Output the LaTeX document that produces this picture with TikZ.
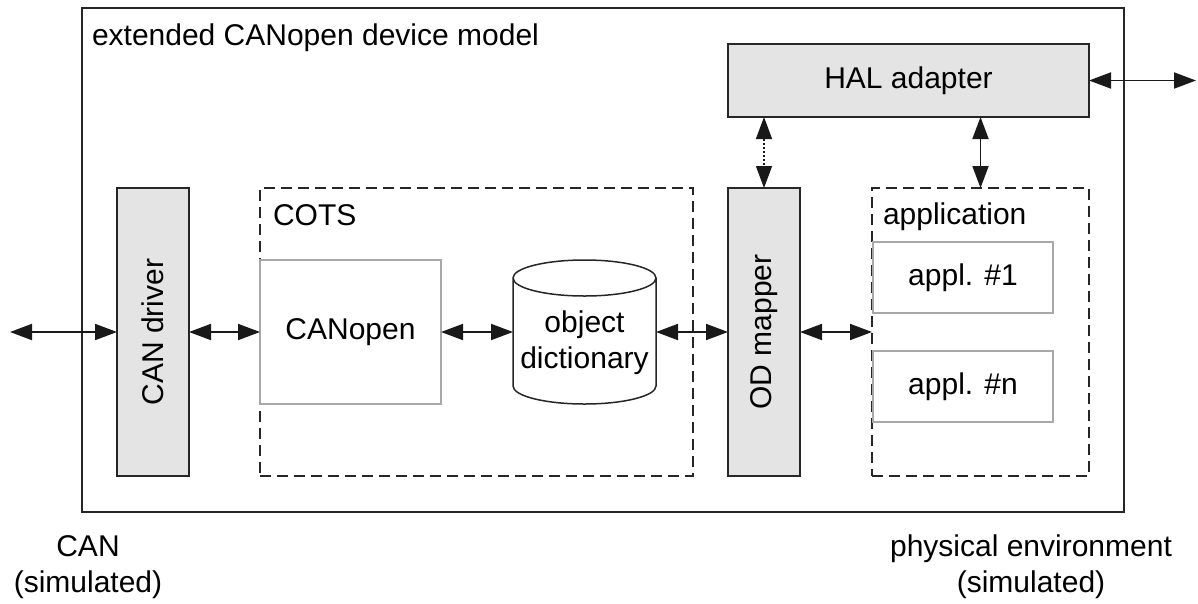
\documentclass[tikz,border=0pt]{standalone}
\usepackage{fontspec}
\setmainfont{Liberation Sans}
\usetikzlibrary{arrows.meta}
\definecolor{boxgray}{HTML}{E4E4E4}
\definecolor{thingray}{HTML}{A8A8A8}
\begin{document}
\begin{tikzpicture}[x=1pt,y=-1pt,
  font=\fontsize{30}{36}\selectfont,
  every node/.style={inner sep=0pt, outer sep=0pt},
  graybox/.style={draw=black!85, line width=1.5pt, fill=boxgray},
  dashbox/.style={draw=black!85, line width=1.5pt, dash pattern=on 11pt off 6pt},
  thinbox/.style={draw=thingray, line width=1.1pt, fill=white},
  outerbox/.style={draw=black!85, line width=1.6pt},
  arr/.style={{Triangle[length=22pt,width=16pt]}-{Triangle[length=22pt,width=16pt]}, line width=1.9pt, draw=black!90},
  dotarr/.style={arr, line width=1.4pt, dash pattern=on 2pt off 2pt}]
\useasboundingbox (0,0) rectangle (1198,603);

% outer box
\node[outerbox, minimum width=1042pt, minimum height=504pt] (outer) at (603,260) {};
\node[anchor=base west] (outerlbl) at (92,45) {extended CANopen device model};

% dashed groups
\node[dashbox, minimum width=433pt, minimum height=288pt] (cots) at (476.5,332) {};
\node[anchor=base west] (cotslbl) at (273,225) {COTS};
\node[dashbox, minimum width=217pt, minimum height=288pt] (app) at (980.5,332) {};
\node[anchor=base west] (applbl) at (883,224) {application};

% gray blocks
\node[graybox, minimum width=361pt, minimum height=73pt] (hal) at (908.5,80.5) {HAL adapter};
\node[graybox, minimum width=72pt, minimum height=288pt] (candrv) at (153,332) {\rotatebox{90}{CAN driver}};
\node[graybox, minimum width=72pt, minimum height=288pt] (odm) at (764,332) {\rotatebox{90}{OD mapper}};

% thin boxes
\node[thinbox, minimum width=181pt, minimum height=144pt] (canopen) at (350.5,332) {CANopen};
\node[thinbox, minimum width=180pt, minimum height=71pt] (appa) at (963,277.5) {appl. \#1};
\node[thinbox, minimum width=180pt, minimum height=71pt] (appn) at (963,386.5) {appl. \#n};

% cylinder
\node[minimum width=143pt, minimum height=144pt] (od) at (584.5,332) {};
\draw[line width=1.5pt, draw=black!85, fill=white]
  ([yshift=-18pt]od.north west) -- ([yshift=18pt]od.south west)
  arc[start angle=180, end angle=360, x radius=71.5pt, y radius=18pt]
  -- ([yshift=-18pt]od.north east)
  arc[start angle=0, end angle=360, x radius=71.5pt, y radius=18pt];
\node[align=center] (odtext) at (584.5,343) {object\\dictionary};

% external ends
\coordinate (lft) at (10,332);
\coordinate (rgt) at (1196,80.5);

% connectors
\draw[arr] (lft) -- (candrv.west);
\draw[arr] (candrv.east) -- (canopen.west);
\draw[arr] (canopen.east) -- (od.west);
\draw[arr] (od.east) -- (odm.west);
\draw[arr] (odm.east) -- (app.west);
\draw[arr] (hal.east) -- (rgt);
\draw[dotarr] (odm.north |- hal.south) -- (odm.north);
\draw[arr] (app.north |- hal.south) -- (app.north);

% outside labels
\node[align=center] (canlbl) at (88,567) {CAN\\(simulated)};
\node[align=center] (physlbl) at (1031,567) {physical environment\\(simulated)};
\end{tikzpicture}
\end{document}
